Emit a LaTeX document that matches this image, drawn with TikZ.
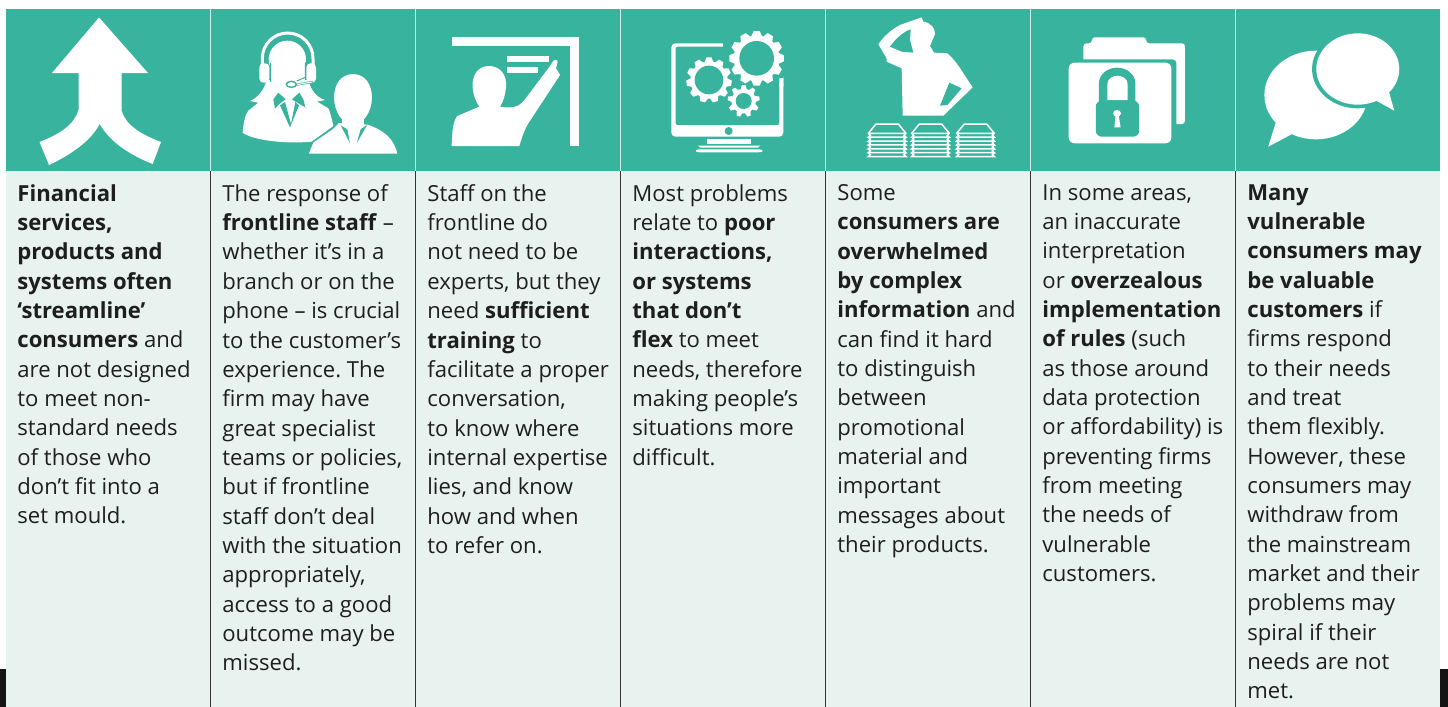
\documentclass[tikz,border=0pt]{standalone}
\usepackage{fontspec}
\setmainfont{Open Sans}
\definecolor{bandteal}{HTML}{38B49E}
\definecolor{panel}{HTML}{E8F3EF}
\definecolor{inktext}{HTML}{1E1E1E}
\definecolor{rule}{HTML}{333333}
\definecolor{sep}{HTML}{D5EDE6}
\newcommand{\mygear}[6]{%
  \fill[white] (#1,#2) circle (#4);
  \pgfmathsetmacro{\gw}{0.19*#3}\pgfmathsetmacro{\gt}{0.11*#3}\pgfmathsetmacro{\gb}{#4-2}
  \foreach \i in {1,...,#5}{
    \fill[white,rotate around={\i*360/#5:(#1,#2)}]
      ({#1-\gw},{#2-\gb}) -- ({#1-\gt},{#2-#3}) -- ({#1+\gt},{#2-#3}) -- ({#1+\gw},{#2-\gb}) -- cycle;
  }
  \fill[bandteal] (#1,#2) circle (#6);
}
\tikzset{
  coltext/.style={anchor=north west,align=left,inner sep=0pt,text=inktext,
    font=\fontsize{11.05pt}{14.67pt}\selectfont\frenchspacing},
  zoomB/.style={shift={(420,0)},xscale=1/3,yscale=1/3},
  zoomC/.style={shift={(840,0)},xscale=1/2.58,yscale=1/3},
  zoomP/.style={shift={(230,20)},xscale=1/3,yscale=1/3},
  zoomT/.style={shift={(860,10)},xscale=1/3,yscale=1/3},
}
\begin{document}
\begin{tikzpicture}[x=0.5pt,y=-0.5pt]
\useasboundingbox (0,0) rectangle (1448,707);
\fill[white] (0,0) rectangle (1448,707);
\fill[black!92] (0,669) rectangle (6,707);
\fill[black!92] (1440,669) rectangle (1448,707);
\fill[panel] (6,171) rectangle (1440,707);
\fill[bandteal] (6,9) rectangle (1440,171);
\foreach \x in {210.8,415.8,620.8,825.8,1030.8,1235.7}{
  \draw[sep,line width=0.5pt] (\x,9) -- (\x,171);
  \draw[rule,line width=0.5pt] (\x,171) -- (\x,707);
}
% --- arrow
\fill[white] (99,17.5) -- (148,73) -- (121.7,73) -- (121.7,111) .. controls (126,125) and (140,134) .. (161,142)
  -- (152.7,164) .. controls (130,155) and (110,142) .. (99.7,124) .. controls (90,142) and (70,155) .. (49,165)
  -- (39.5,142) .. controls (60,134) and (74,125) .. (78.5,110) -- (78.5,73) -- (52,73) -- cycle;
% --- woman and man
\begin{scope}[zoomP]
\fill[white] (38,338) .. controls (40,310) and (45,285) .. (55,272) -- (85,248) .. controls (75,246) and (68,245) .. (60,243)
  .. controls (85,232) and (102,210) .. (110,180) -- (235,180) .. controls (243,210) and (258,232) .. (285,240)
  .. controls (275,243) and (268,244) .. (260,244) -- (295,265) .. controls (302,280) and (306,300) .. (310,318)
  -- (245,365) .. controls (170,372) and (70,362) .. (38,338) -- cycle;
\fill[white] (172,118) circle (56);
\fill[white] (120,118) rectangle (226,200);
\draw[white,line width=1.5pt,line cap=round] (97,135) -- (97,115) arc[start angle=180,end angle=360,x radius=76,y radius=76] -- (249,135);
\fill[white,rounded corners=2pt] (88,130) rectangle (118,188);
\fill[white,rounded corners=2pt] (229,130) rectangle (258,188);
\draw[bandteal,line width=0.5pt] (121,128) -- (121,185);
\draw[bandteal,line width=0.5pt] (226,128) -- (226,172) -- (200,183);
\draw[bandteal,line width=1.1pt,line cap=round] (246,186) -- (195,195);
\draw[white,line width=0.5pt,line cap=round] (246,186) -- (195,195);
\fill[white,draw=bandteal,line width=0.7pt] (184,193) ellipse (15 and 9);
\fill[bandteal] (145,218) -- (167,238) -- (150,250) -- (135,266) -- (130,238) -- cycle;
\fill[bandteal] (208,218) -- (186,238) -- (205,250) -- (226,262) -- (220,238) -- cycle;
\fill[bandteal] (150,256) -- (180,322) -- (207,256) -- (196,246) -- (183,312) -- (165,246) -- cycle;
% man
\fill[white,draw=bandteal,line width=0.7pt] (233,403) -- (248,366) -- (308,325) -- (326,306) -- (415,312)
  .. controls (465,330) and (495,355) .. (505,403) -- cycle;
\fill[white,draw=bandteal,line width=0.7pt] (369,160) .. controls (410,160) and (428,195) .. (428,232)
  .. controls (428,280) and (400,316) .. (369,316) .. controls (338,316) and (310,280) .. (310,232)
  .. controls (310,195) and (328,160) .. (369,160) -- cycle;
\fill[white] (337,296) rectangle (402,330);
\fill[bandteal] (332,316) -- (360,370) -- (352,328) -- cycle;
\fill[bandteal] (412,314) -- (380,370) -- (392,328) -- cycle;
\end{scope}
% --- teacher
\begin{scope}[zoomB]
\fill[white] (95,110) rectangle (477,138);
\fill[white] (449,110) rectangle (477,438);
\fill[white] (262,168) rectangle (386,187);
\fill[white] (262,202) rectangle (354,220);
\fill[white] (95,438) .. controls (96,400) and (98,365) .. (112,348) -- (178,320) .. controls (165,300) and (160,285) .. (158,262)
  .. controls (155,225) and (175,198) .. (207,198) .. controls (240,198) and (262,225) .. (258,262)
  .. controls (256,285) and (250,305) .. (240,320) .. controls (270,325) and (295,325) .. (315,298)
  -- (385,205) -- (400,183) .. controls (405,176) and (416,180) .. (412,190) -- (408,205) -- (420,225)
  -- (325,370) .. controls (312,392) and (305,415) .. (298,438) -- cycle;
\end{scope}
% --- monitor and gears
\begin{scope}[zoomB]
\fill[white,rounded corners=2pt] (754,130) rectangle (1090,410);
\fill[bandteal,rounded corners=1pt] (767,140) rectangle (1078,375);
\fill[bandteal] (910,120) rectangle (1100,235);
\fill[bandteal] (1078,235) -- (1091,232) -- (1091,120) -- (1078,120) -- cycle;
\fill[white] (1078,250) -- (1090,232) -- (1090,260) -- (1078,260) -- cycle;
\fill[bandteal] (926,393) circle (12);
\fill[white] (861,417) rectangle (993,432);
\fill[white] (835,437) -- (1020,437) -- (1014,443) -- (841,443) -- cycle;
\fill[white] (835,448) -- (1020,448) .. controls (1032,450) and (1030,457) .. (1015,457) -- (840,457) .. controls (825,457) and (823,450) .. (835,448) -- cycle;
\mygear{1010}{175}{82}{69}{12}{52}
\mygear{867}{240}{68}{56}{11}{43}
\mygear{971}{303}{48}{37}{9}{24}
\end{scope}
% --- thinking person
\begin{scope}[zoomT]
\fill[white] (55,103) .. controls (70,80) and (95,58) .. (120,45) -- (185,22) -- (190,35) .. controls (212,38) and (226,55) .. (225,72)
  -- (210,108) -- (222,128) -- (262,130) .. controls (280,145) and (298,170) .. (310,190) -- (338,232) -- (250,317) -- (128,317)
  -- (125,175) -- (80,155) -- (80,145) -- cycle;
\fill[bandteal] (90,110) .. controls (105,88) and (130,65) .. (152,58) -- (150,90) -- (160,128) -- (125,125) -- cycle;
\fill[bandteal] (268,218) -- (305,235) -- (262,285) -- (240,287) -- cycle;
\foreach \s in {0,130,265}{
  \begin{scope}[shift={(\s,0)}]
  \draw[white,line width=0.75pt,line join=round] (25,370) -- (48,342) -- (115,342) -- (138,370) -- cycle;
  \foreach \k in {0,1,2,3,4,5}{
    \draw[white,line width=0.75pt] (25,{370+11.6*\k}) -- (31,{376+11.6*\k}) -- (25,{381.6+11.6*\k}) -- (138,{381.6+11.6*\k}) -- (132,{376+11.6*\k}) -- (138,{370+11.6*\k});
  }
  \end{scope}
}
\end{scope}
% --- locked folder
\begin{scope}[zoomC]
\fill[white,rounded corners=1.5pt] (628,372) -- (628,130) -- (650,130) -- (650,112) -- (790,112) -- (790,130) -- (890,130) -- (890,372) -- cycle;
\fill[bandteal,rounded corners=2pt] (575,178) rectangle (868,445);
\fill[bandteal] (628,372) rectangle (868,445);
\fill[white,rounded corners=3pt] (590,188) rectangle (855,430);
\fill[bandteal] (668,310) -- (668,250) arc[start angle=180,end angle=360,x radius=47,y radius=47] -- (762,310) -- cycle;
\fill[white] (690,300) -- (690,252) arc[start angle=180,end angle=360,x radius=26,y radius=25] -- (742,300) -- cycle;
\fill[bandteal,rounded corners=3pt] (660,302) rectangle (772,410);
\fill[white] (715,340) circle (10);
\fill[white] (711,345) -- (719,345) -- (724,382) -- (708,382) -- cycle;
\end{scope}
% --- speech bubbles
\begin{scope}[zoomC]
\fill[white] (1228,285) circle (133);
\fill[white] (1125,365) -- (1105,440) -- (1165,403) -- cycle;
\fill[bandteal] (1336,207) circle (118);
\fill[white] (1336,207) circle (107);
\fill[white] (1415,270) -- (1430,332) -- (1385,303) -- cycle;
\end{scope}
% --- text
\node[coltext] (t1) at (17,184) {\textbf{Financial}\\\textbf{services,}\\\textbf{products and}\\\textbf{systems often}\\\textbf{‘streamline’}\\\textbf{consumers} and\\are not designed\\to meet non-\\standard needs\\of those who\\don’t fit into a\\set mould.};
\node[coltext] (t2) at (222,184) {The response of\\\textbf{frontline staff} –\\whether it’s in a\\branch or on the\\phone – is crucial\\to the customer’s\\experience. The\\firm may have\\great specialist\\teams or policies,\\but if frontline\\staff don’t deal\\with the situation\\appropriately,\\access to a good\\outcome may be\\missed.};
\node[coltext] (t3) at (427,184) {Staff on the\\frontline do\\not need to be\\experts, but they\\need \textbf{sufficient}\\\textbf{training} to\\facilitate a proper\\conversation,\\to know where\\internal expertise\\lies, and know\\how and when\\to refer on.};
\node[coltext] (t4) at (632,184) {Most problems\\relate to \textbf{poor}\\\textbf{interactions,}\\\textbf{or systems}\\\textbf{that don’t}\\\textbf{flex} to meet\\needs, therefore\\making people’s\\situations more\\difficult.};
\node[coltext] (t5) at (837,184) {Some\\\textbf{consumers are}\\\textbf{overwhelmed}\\\textbf{by complex}\\\textbf{information} and\\can find it hard\\to distinguish\\between\\promotional\\material and\\important\\messages about\\their products.};
\node[coltext] (t6) at (1042,184) {In some areas,\\an inaccurate\\interpretation\\or \textbf{overzealous}\\\textbf{implementation}\\\textbf{of rules} (such\\as those around\\data protection\\or affordability) is\\preventing firms\\from meeting\\the needs of\\vulnerable\\customers.};
\node[coltext] (t7) at (1247,184) {\textbf{Many}\\\textbf{vulnerable}\\\textbf{consumers may}\\\textbf{be valuable}\\\textbf{customers} if\\firms respond\\to their needs\\and treat\\them flexibly.\\However, these\\consumers may\\withdraw from\\the mainstream\\market and their\\problems may\\spiral if their\\needs are not\\met.};
\end{tikzpicture}
\end{document}
